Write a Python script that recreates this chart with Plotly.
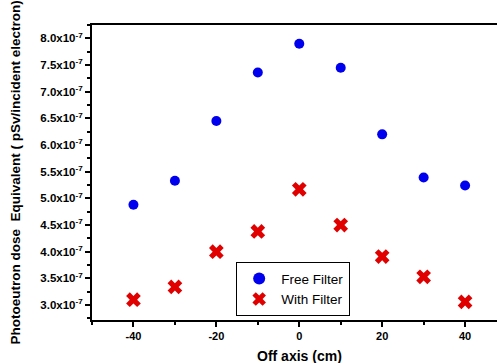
import plotly.graph_objects as go

off_axis = [-40, -30, -20, -10, 0, 10, 20, 30, 40]
free_filter = [4.88e-7, 5.33e-7, 6.45e-7, 7.36e-7, 7.90e-7, 7.45e-7, 6.20e-7, 5.39e-7, 5.24e-7]
with_filter = [3.10e-7, 3.34e-7, 4.00e-7, 4.38e-7, 5.17e-7, 4.50e-7, 3.91e-7, 3.53e-7, 3.06e-7]

y_tickvals = [3.0e-7, 3.5e-7, 4.0e-7, 4.5e-7, 5.0e-7, 5.5e-7, 6.0e-7, 6.5e-7, 7.0e-7, 7.5e-7, 8.0e-7]
y_ticktext = ["%.1fx10<sup>-7</sup>" % (v * 1e7) for v in y_tickvals]
x_tickvals = [-40, -20, 0, 20, 40]

fig = go.Figure()
fig.add_trace(go.Scatter(x=off_axis, y=free_filter, mode="markers", name="Free Filter",
                         marker=dict(symbol="circle", size=10, color="#0000ee")))
fig.add_trace(go.Scatter(x=off_axis, y=with_filter, mode="markers", name="With Filter",
                         marker=dict(symbol="x", size=13, color="#e00000",
                                     line=dict(width=0))))

font_family = "Liberation Sans, Arial, sans-serif"
fig.update_layout(
    width=497, height=363,
    margin=dict(l=92, r=0, t=25, b=43),
    plot_bgcolor="white", paper_bgcolor="white",
    font=dict(family=font_family, color="black"),
    showlegend=True,
    legend=dict(x=0.356, y=0.196, xanchor="left", yanchor="top",
                bordercolor="black", borderwidth=1, bgcolor="white",
                font=dict(size=13.5, family=font_family),
                itemsizing="constant", tracegroupgap=0, itemwidth=34),
    xaxis=dict(range=[-50, 47.7], tickvals=x_tickvals, ticktext=[str(v) for v in x_tickvals],
               showline=True, linecolor="black", linewidth=2, mirror=True,
               ticks="outside", ticklen=5, tickwidth=2, tickcolor="black",
               minor=dict(dtick=10, tick0=0, ticks="outside", ticklen=3, tickwidth=2, tickcolor="black"),
               showgrid=False, zeroline=False, automargin=False,
               tickfont=dict(size=11, family=font_family, weight="bold")),
    yaxis=dict(range=[2.72e-7, 8.25e-7], tickvals=y_tickvals, ticktext=y_ticktext,
               showline=True, linecolor="black", linewidth=2, mirror=True,
               ticks="outside", ticklen=5, tickwidth=2, tickcolor="black",
               minor=dict(dtick=0.25e-7, tick0=0, ticks="outside", ticklen=3, tickwidth=2, tickcolor="black"),
               showgrid=False, zeroline=False, automargin=False,
               tickfont=dict(size=11.5, family=font_family, weight="bold")),
    annotations=[
        dict(text="<b>Off axis (cm)</b>", xref="x", yref="paper", x=0, y=0,
             yshift=-36, xanchor="center", yanchor="middle", showarrow=False,
             font=dict(size=14, family=font_family)),
        dict(text="<b>Photoeutron dose \u00a0Equivalent ( pSv/incident electron)</b>",
             xref="paper", yref="paper", x=0, y=0.5, xshift=-77, textangle=-90,
             xanchor="center", yanchor="middle", showarrow=False,
             font=dict(size=13.5, family=font_family)),
    ],
)

fig.write_html("out.html", config={"displayModeBar": False},
               post_script="document.body.style.margin='0';document.body.style.overflow='hidden';")
